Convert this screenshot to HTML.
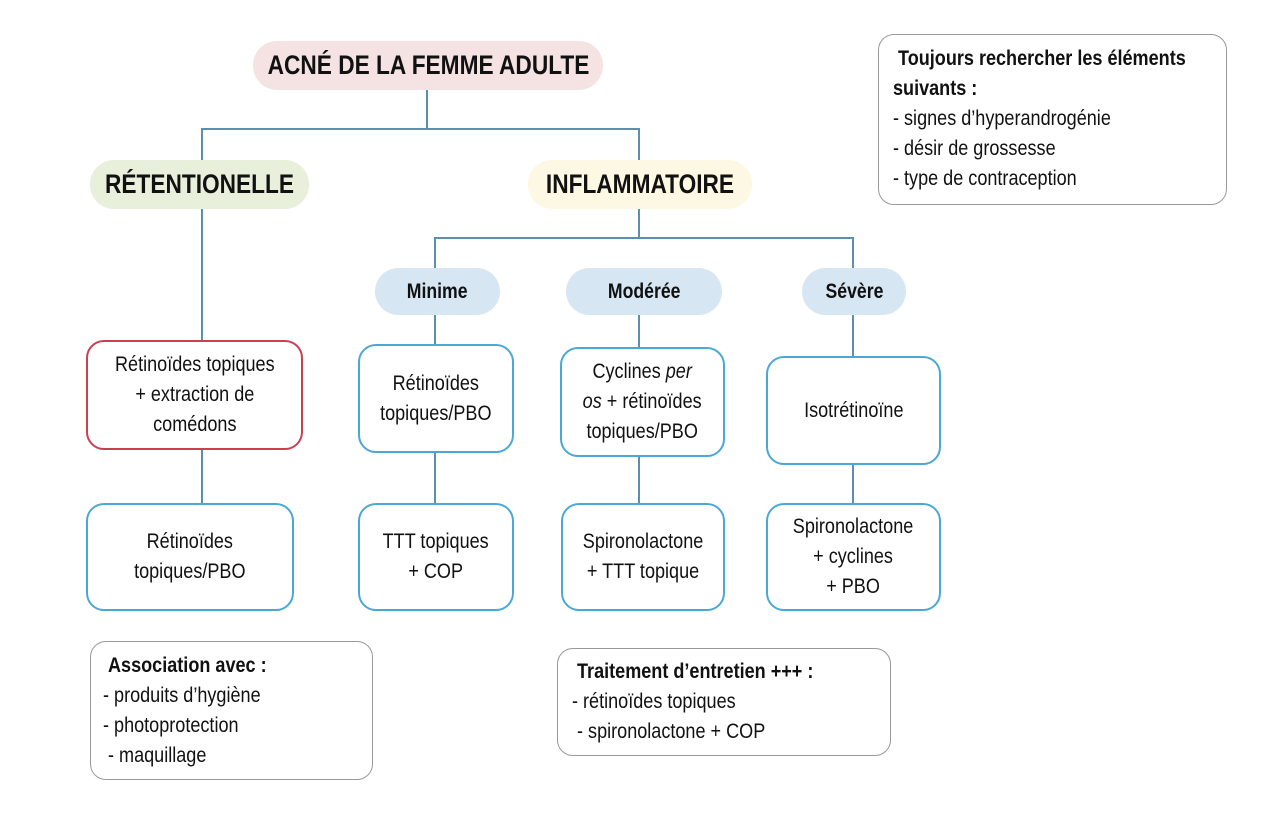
<!DOCTYPE html>
<html><head><meta charset="utf-8"><style>
body{margin:0;width:1280px;height:821px;background:#fff;position:relative;overflow:hidden;font-family:"Liberation Sans",sans-serif;color:#111;white-space:nowrap}
.a{position:absolute;box-sizing:border-box}
.l{position:absolute;background:#5a8fb0}
.pill{display:flex;align-items:center;justify-content:center;border-radius:24px;font-weight:bold}
.pill span{display:inline-block;transform:scaleX(.84)}
.box{display:flex;align-items:center;justify-content:center;text-align:center;border:2.5px solid #4aa8d6;border-radius:18px;background:#fff;font-size:21px;line-height:30px}
.box>div{transform:scaleX(.86)}
.note{border:1.5px solid #999;border-radius:16px;background:#fff;font-size:21px;line-height:30px}
.note>div{transform:scaleX(.86);transform-origin:left top}
</style></head><body>
<div class="l" style="left:426px;top:90px;width:2px;height:40px"></div>
<div class="l" style="left:202px;top:128px;width:438px;height:2px"></div>
<div class="l" style="left:201px;top:128px;width:2px;height:32px"></div>
<div class="l" style="left:638px;top:128px;width:2px;height:32px"></div>
<div class="l" style="left:201px;top:209px;width:2px;height:131px"></div>
<div class="l" style="left:638px;top:209px;width:2px;height:30px"></div>
<div class="l" style="left:434px;top:237px;width:420px;height:2px"></div>
<div class="l" style="left:434px;top:237px;width:2px;height:31px"></div>
<div class="l" style="left:852px;top:237px;width:2px;height:31px"></div>
<div class="l" style="left:434px;top:315px;width:2px;height:30px"></div>
<div class="l" style="left:638px;top:315px;width:2px;height:33px"></div>
<div class="l" style="left:852px;top:315px;width:2px;height:42px"></div>
<div class="l" style="left:201px;top:450px;width:2px;height:54px"></div>
<div class="l" style="left:434px;top:453px;width:2px;height:51px"></div>
<div class="l" style="left:638px;top:457px;width:2px;height:47px"></div>
<div class="l" style="left:852px;top:465px;width:2px;height:39px"></div>

<div class="a pill" style="left:253px;top:41px;width:350px;height:49px;background:#f5e3e3;font-size:27px"><span>ACNÉ DE LA FEMME ADULTE</span></div>
<div class="a pill" style="left:90px;top:160px;width:219px;height:49px;background:#e8efdb;font-size:27px"><span>RÉTENTIONELLE</span></div>
<div class="a pill" style="left:528px;top:160px;width:224px;height:49px;background:#fdf8e3;font-size:27px"><span>INFLAMMATOIRE</span></div>
<div class="a pill" style="left:375px;top:268px;width:125px;height:47px;background:#d6e6f2;font-size:21px"><span>Minime</span></div>
<div class="a pill" style="left:566px;top:268px;width:156px;height:47px;background:#d6e6f2;font-size:21px"><span>Modérée</span></div>
<div class="a pill" style="left:802px;top:268px;width:104px;height:47px;background:#d6e6f2;font-size:21px"><span>Sévère</span></div>

<div class="a box" style="left:86px;top:340px;width:217px;height:110px;border-color:#c94050"><div>Rétinoïdes topiques<br>+ extraction de<br>comédons</div></div>
<div class="a box" style="left:358px;top:344px;width:156px;height:109px"><div>Rétinoïdes<br>topiques/PBO</div></div>
<div class="a box" style="left:560px;top:347px;width:165px;height:110px"><div>Cyclines <i>per</i><br><i>os</i> + rétinoïdes<br>topiques/PBO</div></div>
<div class="a box" style="left:766px;top:356px;width:175px;height:109px"><div>Isotrétinoïne</div></div>

<div class="a box" style="left:86px;top:503px;width:208px;height:108px"><div>Rétinoïdes<br>topiques/PBO</div></div>
<div class="a box" style="left:358px;top:503px;width:156px;height:108px"><div>TTT topiques<br>+ COP</div></div>
<div class="a box" style="left:561px;top:503px;width:164px;height:108px"><div>Spironolactone<br>+ TTT topique</div></div>
<div class="a box" style="left:766px;top:503px;width:175px;height:108px"><div>Spironolactone<br>+ cyclines<br>+ PBO</div></div>

<div class="a note" style="left:878px;top:34px;width:349px;height:171px;padding:9px 0 0 14px"><div><b>&nbsp;Toujours rechercher les éléments<br>suivants :</b><br>- signes d’hyperandrogénie<br>- désir de grossesse<br>- type de contraception</div></div>
<div class="a note" style="left:90px;top:641px;width:283px;height:139px;padding:9px 0 0 12px"><div><b>&nbsp;Association avec :</b><br>- produits d’hygiène<br>- photoprotection<br>&nbsp;- maquillage</div></div>
<div class="a note" style="left:557px;top:648px;width:334px;height:108px;padding:8px 0 0 14px"><div><b>&nbsp;Traitement d’entretien +++ :</b><br>- rétinoïdes topiques<br>&nbsp;- spironolactone + COP</div></div>
</body></html>
